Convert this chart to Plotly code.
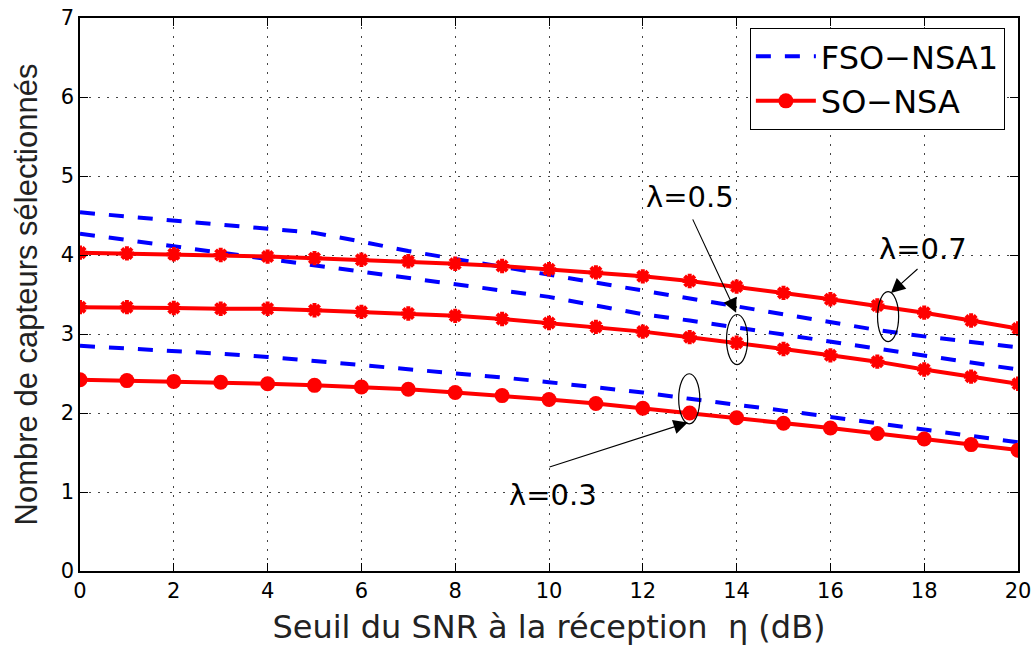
import plotly.graph_objects as go

# ---- data ----
snr = list(range(21))

fso_l07 = [4.54, 4.49, 4.44, 4.39, 4.34, 4.28, 4.17, 4.05, 3.95, 3.85, 3.75,
           3.64, 3.55, 3.44, 3.35, 3.24, 3.14, 3.05, 2.97, 2.90, 2.83]
fso_l05 = [4.27, 4.19, 4.11, 4.03, 3.95, 3.87, 3.79, 3.70, 3.62, 3.55, 3.47,
           3.36, 3.25, 3.17, 3.08, 3.00, 2.91, 2.81, 2.72, 2.63, 2.55]
fso_l03 = [2.85, 2.82, 2.78, 2.75, 2.71, 2.66, 2.61, 2.55, 2.50, 2.45, 2.39,
           2.33, 2.26, 2.18, 2.11, 2.03, 1.95, 1.87, 1.79, 1.71, 1.63]

so_l07 = [4.03, 4.02, 4.01, 4.00, 3.98, 3.96, 3.94, 3.92, 3.89, 3.86, 3.82,
          3.78, 3.73, 3.67, 3.60, 3.52, 3.44, 3.36, 3.27, 3.17, 3.07]
so_l05 = [3.34, 3.34, 3.33, 3.32, 3.32, 3.30, 3.28, 3.26, 3.23, 3.19, 3.14,
          3.09, 3.03, 2.96, 2.89, 2.81, 2.73, 2.65, 2.55, 2.46, 2.37]
so_l03 = [2.42, 2.41, 2.40, 2.39, 2.37, 2.35, 2.33, 2.30, 2.26, 2.22, 2.17,
          2.12, 2.06, 2.00, 1.94, 1.87, 1.81, 1.74, 1.67, 1.60, 1.53]

x_ticks = list(range(0, 21, 2))
y_ticks = list(range(0, 8))

# annotation anchors
labels = ["λ=0.5", "λ=0.7", "λ=0.3"]
ell_x = [14.01, 17.23, 12.99]
ell_y = [2.93, 3.22, 2.18]
head_x = [13.99, 17.29, 12.96]
head_y = [3.27, 3.52, 1.88]
tail_x = [13.05, 17.89, 9.98]
tail_y = [4.47, 3.84, 1.31]
text_x = [13.0, 17.97, 10.09]
text_y = [4.73, 4.07, 0.96]

WIDE = "DejaVu Sans, Liberation Sans, Arial, sans-serif"
NARROW = "Liberation Sans, Arial, Helvetica, sans-serif"
BLUE = "#0000ff"
RED = "#ff0000"

fig = go.Figure()

dash_line = dict(color=BLUE, width=4, dash="15px,14px")
for i, ys in enumerate([fso_l07, fso_l05, fso_l03]):
    fig.add_trace(go.Scatter(
        x=snr, y=ys, mode="lines", line=dash_line,
        name="FSO−NSA1", legendgroup="fso", showlegend=(i == 0)))

for ys in [so_l07, so_l05]:
    fig.add_trace(go.Scatter(
        x=snr, y=ys, mode="lines+markers",
        line=dict(color=RED, width=4),
        marker=dict(symbol="asterisk-open", size=12, color=RED,
                    line=dict(color=RED, width=4)),
        name="SO−NSA", legendgroup="so", showlegend=False))

fig.add_trace(go.Scatter(
    x=snr, y=so_l03, mode="lines+markers",
    line=dict(color=RED, width=4),
    marker=dict(symbol="circle", size=15, color=RED),
    name="SO−NSA", legendgroup="so", showlegend=True))

# ellipses
for cx, cy in zip(ell_x, ell_y):
    fig.add_shape(type="circle", xref="x", yref="y",
                  x0=cx - 0.225, x1=cx + 0.225, y0=cy - 0.317, y1=cy + 0.317,
                  line=dict(color="black", width=1.2))

# arrows and labels
for lab, hx, hy, tx, ty, lx, ly in zip(labels, head_x, head_y, tail_x, tail_y, text_x, text_y):
    fig.add_annotation(x=hx, y=hy, ax=tx, ay=ty, xref="x", yref="y",
                       axref="x", ayref="y", text="", showarrow=True,
                       arrowhead=2, arrowsize=2.6, arrowwidth=1.1, arrowcolor="black")
    fig.add_annotation(x=lx, y=ly, xref="x", yref="y", text=lab, showarrow=False,
                       font=dict(family=WIDE, size=29, color="black"))

axis_common = dict(
    showline=True, linecolor="black", linewidth=1.5, mirror="ticks",
    ticks="inside", ticklen=8, tickcolor="black", tickwidth=1,
    showgrid=True, gridcolor="#444444", gridwidth=1, griddash="2px,7px",
    zeroline=False, tickfont=dict(family=WIDE, size=21, color="black"),
)

fig.update_xaxes(range=[0, 20], tickvals=x_ticks,
                 title=dict(text="Seuil du SNR à la réception  η (dB)",
                            font=dict(family=WIDE, size=32, color="#222222"),
                            standoff=14),
                 **axis_common)
fig.update_yaxes(range=[0, 7], tickvals=y_ticks,
                 title=dict(text="Nombre de capteurs sélectionnés",
                            font=dict(family=NARROW, size=31, color="#222222"),
                            standoff=14),
                 **axis_common)

fig.update_layout(
    width=1036, height=650,
    margin=dict(l=80, r=18, t=18, b=79, autoexpand=False),
    plot_bgcolor="white", paper_bgcolor="white",
    font=dict(family=WIDE, color="black"),
    legend=dict(x=0.986, y=0.982, xanchor="right", yanchor="top",
                bgcolor="white", bordercolor="black", borderwidth=1,
                font=dict(family=WIDE, size=32, color="black"),
                itemwidth=60, tracegroupgap=0),
    showlegend=True,
)

fig.write_html("out.html")
